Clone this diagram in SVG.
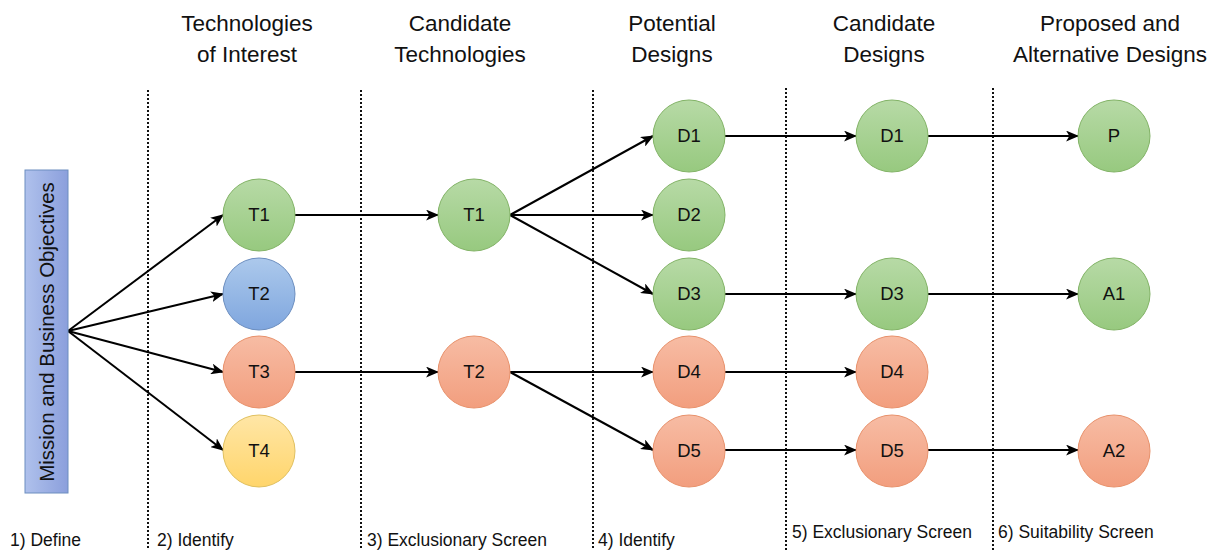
<svg xmlns="http://www.w3.org/2000/svg" width="1222" height="550" viewBox="0 0 1222 550">
<style>
text{font-family:"Liberation Sans",Arial,sans-serif;fill:#111}
.hdr{font-size:22.5px;text-anchor:middle}
.step{font-size:17.5px}
.lbl{font-size:18.5px;text-anchor:middle}
.sep{stroke:#111;stroke-width:2;stroke-dasharray:2 2;fill:none}
.edge{stroke:#000;stroke-width:2;fill:none;marker-end:url(#arr)}
.g{fill:url(#gG);stroke:#82b366;stroke-width:1}
.b{fill:url(#gB);stroke:#6c8ebf;stroke-width:1}
.o{fill:url(#gO);stroke:#e8916b;stroke-width:1}
.y{fill:url(#gY);stroke:#e0c060;stroke-width:1}
</style>
<defs>
<linearGradient id="gG" x1="0" y1="0" x2="0" y2="1"><stop offset="0" stop-color="#b7daa6"/><stop offset="1" stop-color="#97c97f"/></linearGradient>
<linearGradient id="gB" x1="0" y1="0" x2="0" y2="1"><stop offset="0" stop-color="#acc9ec"/><stop offset="1" stop-color="#7fa6de"/></linearGradient>
<linearGradient id="gO" x1="0" y1="0" x2="0" y2="1"><stop offset="0" stop-color="#f7bca4"/><stop offset="1" stop-color="#f29e7e"/></linearGradient>
<linearGradient id="gY" x1="0" y1="0" x2="0" y2="1"><stop offset="0" stop-color="#ffe6a6"/><stop offset="1" stop-color="#ffd56b"/></linearGradient>
<linearGradient id="gR" x1="0" y1="0" x2="1" y2="0"><stop offset="0" stop-color="#afc1ec"/><stop offset="1" stop-color="#8b9fdc"/></linearGradient>
<marker id="arr" viewBox="0 0 12 10" refX="11" refY="5" markerWidth="13" markerHeight="11" markerUnits="userSpaceOnUse" orient="auto">
<path d="M0,0 L12,5 L0,10 L3,5 z" fill="#000"/>
</marker>
</defs>

<g id="headers">
<text class="hdr" x="247" y="31">Technologies</text>
<text class="hdr" x="247" y="62">of Interest</text>
<text class="hdr" x="460" y="31">Candidate</text>
<text class="hdr" x="460" y="62">Technologies</text>
<text class="hdr" x="672" y="31">Potential</text>
<text class="hdr" x="672" y="62">Designs</text>
<text class="hdr" x="884" y="31">Candidate</text>
<text class="hdr" x="884" y="62">Designs</text>
<text class="hdr" x="1110" y="31">Proposed and</text>
<text class="hdr" x="1110" y="62">Alternative Designs</text>
</g>

<g id="separators">
<line class="sep" x1="148" y1="90" x2="148" y2="550"/>
<line class="sep" x1="361" y1="90" x2="361" y2="550"/>
<line class="sep" x1="593" y1="90" x2="593" y2="550"/>
<line class="sep" x1="786" y1="88" x2="786" y2="550"/>
<line class="sep" x1="993" y1="88" x2="993" y2="550"/>
</g>

<g id="steps">
<text class="step" x="10" y="546">1) Define</text>
<text class="step" x="157" y="546">2) Identify</text>
<text class="step" x="367" y="546">3) Exclusionary Screen</text>
<text class="step" x="598" y="546">4) Identify</text>
<text class="step" x="792" y="538">5) Exclusionary Screen</text>
<text class="step" x="998" y="538">6) Suitability Screen</text>
</g>

<g id="connectors">
<line class="edge" x1="68" y1="331" x2="223" y2="215"/>
<line class="edge" x1="68" y1="331" x2="223" y2="294"/>
<line class="edge" x1="68" y1="331" x2="223" y2="372"/>
<line class="edge" x1="68" y1="331" x2="223" y2="450"/>
<line class="edge" x1="295" y1="215" x2="438" y2="215"/>
<line class="edge" x1="295" y1="372" x2="438" y2="372"/>
<line class="edge" x1="510" y1="215" x2="653" y2="136"/>
<line class="edge" x1="510" y1="215" x2="653" y2="215"/>
<line class="edge" x1="510" y1="215" x2="653" y2="294"/>
<line class="edge" x1="510" y1="372" x2="653" y2="372"/>
<line class="edge" x1="510" y1="372" x2="653" y2="450"/>
<line class="edge" x1="725" y1="136" x2="856" y2="136"/>
<line class="edge" x1="725" y1="294" x2="856" y2="294"/>
<line class="edge" x1="725" y1="372" x2="856" y2="372"/>
<line class="edge" x1="725" y1="450" x2="856" y2="450"/>
<line class="edge" x1="928" y1="136" x2="1078" y2="136"/>
<line class="edge" x1="928" y1="294" x2="1078" y2="294"/>
<line class="edge" x1="928" y1="450" x2="1078" y2="450"/>
</g>

<g id="mission">
<rect x="25" y="170" width="43" height="323" fill="url(#gR)" stroke="#6c8ebf" stroke-width="1"/>
<text transform="translate(54,332) rotate(-90)" font-size="20.5" text-anchor="middle">Mission and Business Objectives</text>
</g>

<g id="toi-T1"><circle class="g" cx="259" cy="215" r="36"/><text class="lbl" x="259" y="221">T1</text></g>
<g id="toi-T2"><circle class="b" cx="259" cy="294" r="36"/><text class="lbl" x="259" y="300">T2</text></g>
<g id="toi-T3"><circle class="o" cx="259" cy="372" r="36"/><text class="lbl" x="259" y="378">T3</text></g>
<g id="toi-T4"><circle class="y" cx="259" cy="451" r="36"/><text class="lbl" x="259" y="457">T4</text></g>

<g id="ct-T1"><circle class="g" cx="474" cy="215" r="36"/><text class="lbl" x="474" y="221">T1</text></g>
<g id="ct-T2"><circle class="o" cx="474" cy="372" r="36"/><text class="lbl" x="474" y="378">T2</text></g>

<g id="pd-D1"><circle class="g" cx="689" cy="136" r="36"/><text class="lbl" x="689" y="142">D1</text></g>
<g id="pd-D2"><circle class="g" cx="689" cy="215" r="36"/><text class="lbl" x="689" y="221">D2</text></g>
<g id="pd-D3"><circle class="g" cx="689" cy="294" r="36"/><text class="lbl" x="689" y="300">D3</text></g>
<g id="pd-D4"><circle class="o" cx="689" cy="372" r="36"/><text class="lbl" x="689" y="378">D4</text></g>
<g id="pd-D5"><circle class="o" cx="689" cy="451" r="36"/><text class="lbl" x="689" y="457">D5</text></g>

<g id="cd-D1"><circle class="g" cx="892" cy="136" r="36"/><text class="lbl" x="892" y="142">D1</text></g>
<g id="cd-D3"><circle class="g" cx="892" cy="294" r="36"/><text class="lbl" x="892" y="300">D3</text></g>
<g id="cd-D4"><circle class="o" cx="892" cy="372" r="36"/><text class="lbl" x="892" y="378">D4</text></g>
<g id="cd-D5"><circle class="o" cx="892" cy="451" r="36"/><text class="lbl" x="892" y="457">D5</text></g>

<g id="pa-P"><circle class="g" cx="1114" cy="136" r="36"/><text class="lbl" x="1114" y="142">P</text></g>
<g id="pa-A1"><circle class="g" cx="1114" cy="294" r="36"/><text class="lbl" x="1114" y="300">A1</text></g>
<g id="pa-A2"><circle class="o" cx="1114" cy="451" r="36"/><text class="lbl" x="1114" y="457">A2</text></g>
</svg>
